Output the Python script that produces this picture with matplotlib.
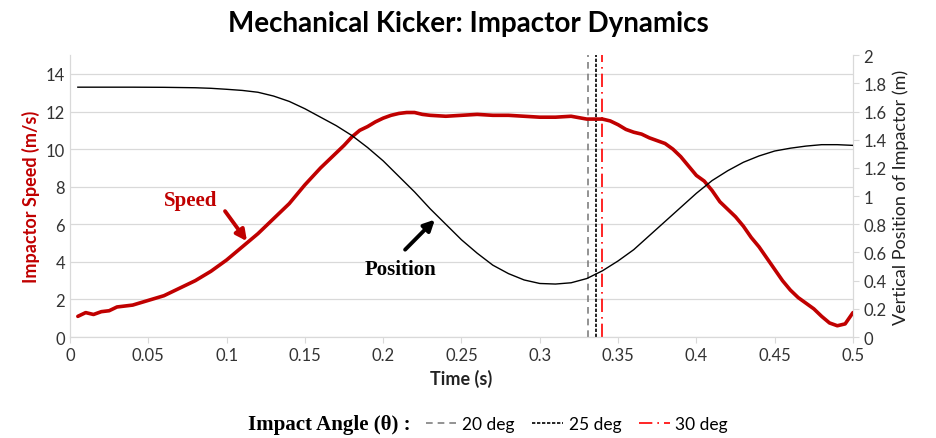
import numpy as np
import matplotlib.pyplot as plt
from matplotlib.lines import Line2D

# speed data (left axis, m/s)
t_speed = [0.005, 0.01, 0.015, 0.02, 0.025, 0.03, 0.04, 0.05, 0.06, 0.07, 0.08, 0.09,
           0.1, 0.105, 0.11, 0.115, 0.12, 0.125, 0.13, 0.135, 0.14, 0.145, 0.15, 0.155,
           0.16, 0.165, 0.17, 0.175, 0.18, 0.185, 0.19, 0.195, 0.2, 0.205, 0.21, 0.215,
           0.22, 0.225, 0.23, 0.24, 0.25, 0.26, 0.27, 0.28, 0.29, 0.3, 0.31, 0.32,
           0.33, 0.34, 0.345, 0.35, 0.355, 0.36, 0.365, 0.37, 0.375, 0.38, 0.385, 0.39,
           0.395, 0.4, 0.405, 0.41, 0.415, 0.42, 0.425, 0.43, 0.435, 0.44, 0.445, 0.45,
           0.455, 0.46, 0.465, 0.47, 0.475, 0.48, 0.485, 0.49, 0.495, 0.5]
speed = [1.1, 1.3, 1.2, 1.35, 1.4, 1.6, 1.7, 1.95, 2.2, 2.6, 3.0, 3.5,
         4.1, 4.45, 4.8, 5.15, 5.5, 5.9, 6.3, 6.7, 7.1, 7.6, 8.1, 8.55,
         9.0, 9.4, 9.8, 10.2, 10.65, 11.0, 11.2, 11.45, 11.65, 11.8, 11.9, 11.95,
         11.95, 11.85, 11.8, 11.75, 11.8, 11.85, 11.8, 11.8, 11.75, 11.7, 11.7, 11.75,
         11.6, 11.6, 11.5, 11.3, 11.05, 10.9, 10.8, 10.6, 10.45, 10.3, 10.0, 9.6,
         9.1, 8.6, 8.3, 7.8, 7.2, 6.8, 6.4, 5.9, 5.3, 4.8, 4.2, 3.6,
         3.0, 2.5, 2.1, 1.8, 1.5, 1.1, 0.75, 0.6, 0.7, 1.3]

# position data (right axis, m)
t_pos = [0.005, 0.02, 0.04, 0.06, 0.08, 0.09, 0.1, 0.11, 0.12, 0.13, 0.14, 0.15,
         0.16, 0.17, 0.18, 0.19, 0.2, 0.21, 0.22, 0.23, 0.24, 0.25, 0.26, 0.27,
         0.28, 0.29, 0.3, 0.31, 0.32, 0.33, 0.34, 0.35, 0.36, 0.37, 0.38, 0.39,
         0.4, 0.41, 0.42, 0.43, 0.44, 0.45, 0.46, 0.47, 0.48, 0.49, 0.5]
pos = [1.773, 1.773, 1.773, 1.772, 1.769, 1.765, 1.758, 1.75, 1.737, 1.71, 1.672, 1.62,
       1.56, 1.50, 1.43, 1.345, 1.25, 1.14, 1.03, 0.91, 0.80, 0.69, 0.595, 0.51,
       0.45, 0.405, 0.38, 0.376, 0.385, 0.415, 0.47, 0.54, 0.62, 0.72, 0.82, 0.92,
       1.02, 1.11, 1.18, 1.24, 1.285, 1.32, 1.34, 1.355, 1.365, 1.365, 1.36]

# impact angle markers
angle_labels = ['20 deg', '25 deg', '30 deg']
angle_times = [0.331, 0.336, 0.340]
angle_colors = ['#808080', 'black', 'red']
angle_styles = [(0, (4, 3)), (0, (2, 1)), (0, (8, 3, 1, 3))]

xticks = np.arange(0, 0.501, 0.05)
xlabels = ['0', '0.05', '0.1', '0.15', '0.2', '0.25', '0.3', '0.35', '0.4', '0.45', '0.5']

plt.rcParams['font.family'] = ['Lato', 'DejaVu Sans']

fig = plt.figure(figsize=(9.36, 4.39), dpi=100)
ax1 = fig.add_axes([0.0748, 0.230, 0.8365, 0.642])
ax2 = ax1.twinx()

ax1.set_xlim(0, 0.5)
ax1.set_ylim(0, 15)
ax1.set_yticks(np.arange(0, 15, 2))
ax1.set_xticks(xticks)
ax1.set_xticklabels(xlabels)
ax1.grid(axis='y', color='#d9d9d9', lw=0.9)
ax1.set_axisbelow(True)
ax2.set_ylim(0, 2)
ax2.set_yticks(np.arange(0, 2.01, 0.2))
ax2.set_yticklabels(['0', '0.2', '0.4', '0.6', '0.8', '1', '1.2', '1.4', '1.6', '1.8', '2'])

for a in (ax1, ax2):
    for s in a.spines.values():
        s.set_color('#d9d9d9')
    a.tick_params(labelsize=12, colors='#333333')
ax1.spines['top'].set_visible(False)
ax2.spines['top'].set_visible(False)
ax1.tick_params(axis='y', length=0)
ax1.tick_params(axis='x', length=4, color='#d9d9d9')
ax2.tick_params(axis='y', length=4, color='#d9d9d9')

ax1.plot(t_speed, speed, color='#c00000', lw=2.6, zorder=3,
         solid_joinstyle='round', solid_capstyle='round')
ax2.plot(t_pos, pos, color='black', lw=1.0, zorder=3, solid_joinstyle='round')

for lab, tt, c, ls in zip(angle_labels, angle_times, angle_colors, angle_styles):
    ax1.axvline(tt, color=c, ls=ls, lw=1.2, label=lab, zorder=2)

ax1.set_xlabel('Time (s)', fontsize=13, fontweight='bold', color='#222222')
ax1.set_ylabel('Impactor Speed (m/s)', fontsize=13, fontweight='bold', color='#c00000')
ax2.set_ylabel('Vertical Position of Impactor (m)', fontsize=13, color='#222222')

# annotations: text and arrows drawn separately
ax1.text(0.077, 7.3, 'Speed', ha='center', va='center', fontsize=15, fontweight='bold',
         color='#c00000', family='Liberation Serif')
ax1.annotate('', xy=(0.113, 5.1), xytext=(0.099, 6.7),
             arrowprops=dict(arrowstyle='-|>', color='#c00000', lw=2.8, mutation_scale=16,
                             shrinkA=0, shrinkB=0))
ax1.text(0.211, 3.6, 'Position', ha='center', va='center', fontsize=15, fontweight='bold',
         color='black', family='Liberation Serif')
ax1.annotate('', xy=(0.233, 6.25), xytext=(0.214, 4.65),
             arrowprops=dict(arrowstyle='-|>', color='black', lw=2.8, mutation_scale=16,
                             shrinkA=0, shrinkB=0))

fig.suptitle('Mechanical Kicker: Impactor Dynamics', x=0.50, y=0.975, fontsize=20,
             fontweight='bold')

fig.text(0.265, 0.032, 'Impact Angle (θ) :', fontsize=15, fontweight='bold',
         family='Liberation Serif', va='center')
handles = [Line2D([], [], color=c, ls=ls, lw=1.2) for c, ls in zip(angle_colors, angle_styles)]
fig.legend(handles, angle_labels, loc='center left', bbox_to_anchor=(0.455, 0.032), ncol=3,
           frameon=False, fontsize=12.5, handlelength=1.8, handletextpad=0.3, columnspacing=1.0,
           borderpad=0, borderaxespad=0)

fig.savefig('out.png', dpi=100)
